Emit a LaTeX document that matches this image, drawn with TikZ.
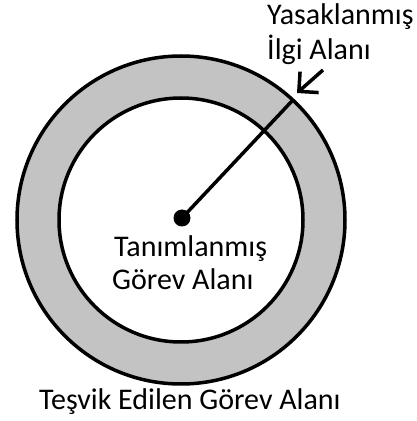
\documentclass[tikz,border=0pt]{standalone}
\usepackage{fontspec}
\setmainfont{Carlito}
\usetikzlibrary{arrows.meta}
\definecolor{ringgray}{RGB}{195,195,195}
\tikzset{
  ring/.style={circle, draw=black, line width=3.5pt, inner sep=0pt, outer sep=0pt},
  lbl/.style={inner sep=0pt, align=left, font=\fontsize{30}{35}\selectfont, text=black},
  conn/.style={line width=3.5pt, draw=black}
}
\begin{document}
\begin{tikzpicture}[x=1pt,y=1pt]
\useasboundingbox (0,0) rectangle (416,421);
\node[ring, fill=ringgray, minimum size=328pt] (outer) at (181,201) {};
\node[ring, fill=white, minimum size=244pt] (inner) at (181,201) {};
\node[circle, fill=black, inner sep=0pt, minimum size=17pt] (dot) at (182,203) {};
\draw[conn] (dot.center) -- (outer.47);
\coordinate (arrstart) at (323,351);
\draw[conn, -{Straight Barb[length=14pt,width=28pt]}] (arrstart) -- (297,328);
\node[lbl, anchor=base west] (yasak) at (267,396) {Yasaklanmış};
\node[lbl, anchor=base west] (ilgi) at (267,361) {İlgi Alanı};
\node[lbl, anchor=base west] (tanim) at (114,164) {Tanımlanmış};
\node[lbl, anchor=base west] (gorev) at (112,131) {Görev Alanı};
\node[lbl, anchor=base west] (tesvik) at (39,11) {Teşvik Edilen Görev Alanı};
\end{tikzpicture}
\end{document}
